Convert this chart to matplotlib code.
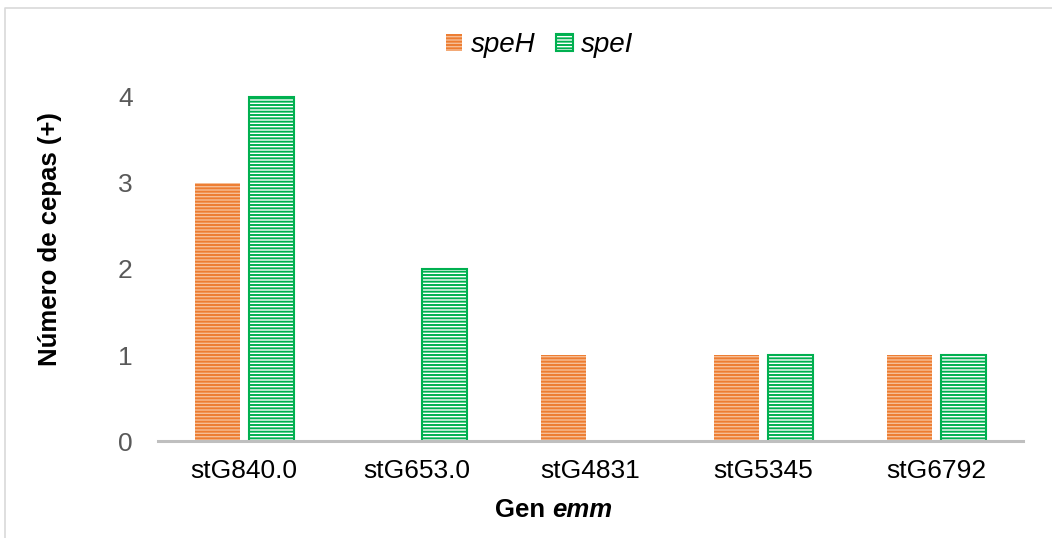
#!/usr/bin/env python
# -*- coding: utf-8 -*-
"""Bar chart: number of strains positive for speH / speI by emm gene."""

import numpy as np
import matplotlib
matplotlib.use("Agg")
import matplotlib.pyplot as plt
from matplotlib.lines import Line2D
from matplotlib.offsetbox import TextArea, HPacker, AnchoredOffsetbox

# Data
genes = ["stG840.0", "stG653.0", "stG4831", "stG5345", "stG6792"]
speH = [3, 0, 1, 1, 1]
speI = [4, 2, 0, 1, 1]
series_names = ["speH", "speI"]
y_ticks = [0, 1, 2, 3, 4]

plt.rcParams["font.family"] = ["Liberation Sans", "DejaVu Sans"]
plt.rcParams["hatch.linewidth"] = 1.4

ORANGE = "#ED7D31"
ORANGE_LIGHT = "#F6BE96"
GREEN = "#00B050"
GRAY_TXT = "#595959"

fig = plt.figure(figsize=(10.52, 5.38), dpi=100)
ax = fig.add_axes([0.150, 0.180, 0.822, 0.640])

x = np.arange(len(genes))
off = 0.156
w = 0.26

bars_h = ax.bar(x - off, speH, w, color=ORANGE_LIGHT, edgecolor=ORANGE, linewidth=0,
                hatch="-----", label=series_names[0], clip_on=False, zorder=3)
bars_i = ax.bar(x + off, speI, w, color="white", edgecolor=GREEN, linewidth=1.5,
                hatch="-----", label=series_names[1], clip_on=False, zorder=3)
# Excel draws nothing for zero values
for bars, vals in ((bars_h, speH), (bars_i, speI)):
    for b, v in zip(bars, vals):
        if v == 0:
            b.set_visible(False)

ax.set_xlim(-0.5, len(genes) - 0.5)
ax.set_ylim(0, 4)
ax.set_yticks(y_ticks)
ax.set_xticks(x)
ax.set_xticklabels(genes, fontsize=19)
ax.tick_params(axis="y", labelsize=19, labelcolor=GRAY_TXT, length=0, pad=18)
ax.tick_params(axis="x", length=0, pad=13)

for s in ["top", "right", "left"]:
    ax.spines[s].set_visible(False)
ax.spines["bottom"].set_color("#BFBFBF")
ax.spines["bottom"].set_linewidth(2.2)
ax.spines["bottom"].set_zorder(4)

ax.set_ylabel("Número de cepas (+)", fontsize=18.5, fontweight="bold")
ax.yaxis.set_label_coords(-0.111, 0.587)

# x label with italic part
xl = HPacker(children=[
    TextArea("Gen ", textprops=dict(fontsize=18.5, fontweight="bold")),
    TextArea("emm", textprops=dict(fontsize=18.5, fontweight="bold", style="italic")),
], align="baseline", pad=0, sep=0)
ab = AnchoredOffsetbox(loc="center", child=xl, frameon=False,
                       bbox_to_anchor=(0.526, 0.052), bbox_transform=fig.transFigure)
fig.add_artist(ab)

fig.legend(loc="center", bbox_to_anchor=(0.513, 0.916), ncol=2, frameon=False,
           prop=dict(size=20, style="italic"), handlelength=0.6, handleheight=0.6,
           handletextpad=0.3, columnspacing=0.75)

# chart border (top and left visible)
fig.add_artist(Line2D([0.005, 0.005, 1.0], [0.0, 0.985, 0.985],
                      transform=fig.transFigure, color="#D9D9D9", linewidth=1.2))

fig.savefig("out.png", dpi=100)
